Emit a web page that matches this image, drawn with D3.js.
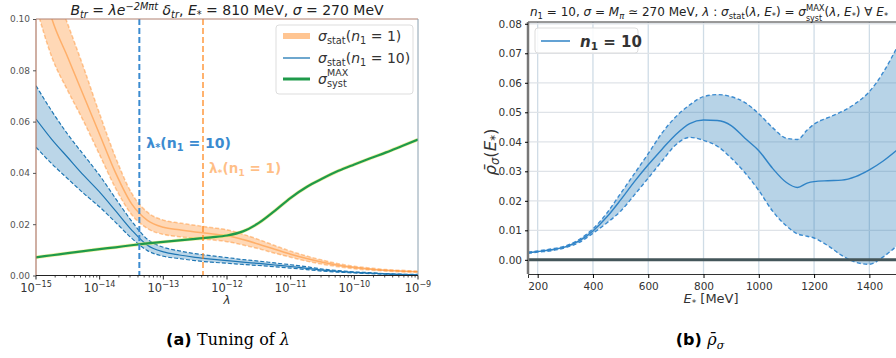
<!DOCTYPE html>
<html>
<head>
<meta charset="utf-8">
<script src="https://cdn.jsdelivr.net/npm/d3@7"></script>
<style>
  body { margin: 0; background: #fff; }
  svg { display: block; font-family: "DejaVu Sans", sans-serif; }
</style>
</head>
<body>
<svg id="fig" width="896" height="358"></svg>
<script>
// ---- panel (a): tuning of lambda ----
const lambdas = [1e-15, 1.78e-15, 3.16e-15, 5.62e-15, 1e-14, 1.78e-14, 3.16e-14, 5.62e-14, 1e-13, 1.78e-13, 3.16e-13, 5.62e-13,
  1e-12, 1.78e-12, 3.16e-12, 5.62e-12, 1e-11, 1.78e-11, 3.16e-11, 5.62e-11, 1e-10, 1.78e-10, 3.16e-10, 5.62e-10, 1e-9];
const statN1Mid = [0.124, 0.100, 0.085, 0.070, 0.055, 0.040, 0.028, 0.0215, 0.0188, 0.0178, 0.0170, 0.0163, 0.0155,
  0.0140, 0.0122, 0.0102, 0.0083, 0.0066, 0.0052, 0.0040, 0.0031, 0.0025, 0.0020, 0.0017, 0.0015];
const statN1Hi = [0.143, 0.115, 0.098, 0.081, 0.063, 0.046, 0.0322, 0.0247, 0.0216, 0.0205, 0.0196, 0.0187, 0.0178,
  0.0161, 0.0140, 0.0117, 0.0095, 0.0076, 0.0060, 0.0046, 0.0036, 0.0029, 0.0023, 0.0020, 0.0017];
const statN1Lo = [0.105, 0.085, 0.072, 0.060, 0.047, 0.034, 0.0238, 0.0183, 0.0160, 0.0151, 0.0145, 0.0139, 0.0132,
  0.0119, 0.0104, 0.0087, 0.0071, 0.0056, 0.0044, 0.0034, 0.0026, 0.0021, 0.0017, 0.0014, 0.0013];
const statN10Mid = [0.061, 0.053, 0.046, 0.039, 0.0325, 0.0252, 0.0178, 0.0118, 0.0092, 0.0080, 0.0071, 0.0064, 0.0058,
  0.0052, 0.0047, 0.0041, 0.0035, 0.0028, 0.0021, 0.0016, 0.0012, 0.0009, 0.0006, 0.0004, 0.0003];
const statN10Hi = [0.074, 0.064, 0.055, 0.047, 0.039, 0.030, 0.0213, 0.0141, 0.0110, 0.0096, 0.0085, 0.0077, 0.0070,
  0.0062, 0.0056, 0.0049, 0.0042, 0.0034, 0.0025, 0.0019, 0.0014, 0.0011, 0.0007, 0.0005, 0.0004];
const statN10Lo = [0.050, 0.0435, 0.0377, 0.032, 0.0267, 0.0207, 0.0146, 0.0097, 0.0075, 0.0066, 0.0058, 0.0052, 0.0048,
  0.0043, 0.0039, 0.0034, 0.0029, 0.0023, 0.0017, 0.0013, 0.0010, 0.0007, 0.0005, 0.0003, 0.0002];
const systMax = [0.0071, 0.0079, 0.0087, 0.0095, 0.0103, 0.0110, 0.0118, 0.0125, 0.0131, 0.0137, 0.0143, 0.0149, 0.0156,
  0.0172, 0.0205, 0.0252, 0.0303, 0.0345, 0.0378, 0.0408, 0.0433, 0.0457, 0.0480, 0.0505, 0.0530];
const lambdaStarN10 = 4.2e-14;
const lambdaStarN1 = 4.2e-13;
const yTicksA = [0, 0.02, 0.04, 0.06, 0.08, 0.10];
const xTicksA = [1e-15, 1e-14, 1e-13, 1e-12, 1e-11, 1e-10, 1e-9];

// ---- panel (b): rho bar ----
const energies = [165, 200, 250, 300, 350, 400, 450, 500, 550, 600, 650, 700, 750, 800, 850, 900, 950, 1000,
  1050, 1100, 1140, 1175, 1200, 1250, 1300, 1350, 1400, 1450, 1500];
const rhoMid = [0.0024, 0.0028, 0.0034, 0.0044, 0.0064, 0.0098, 0.0145, 0.0203, 0.0265, 0.0322, 0.0375, 0.0425, 0.0462, 0.0474, 0.0472, 0.0455,
  0.0412, 0.0370, 0.0310, 0.0262, 0.0245, 0.0260, 0.0265, 0.0268, 0.0270, 0.0282, 0.0305, 0.0335, 0.0372];
const rhoHi = [0.0026, 0.0030, 0.0037, 0.0047, 0.0069, 0.0105, 0.0158, 0.0225, 0.0292, 0.0360, 0.0430, 0.0485, 0.0525, 0.0553, 0.0560, 0.0553,
  0.0533, 0.0495, 0.0448, 0.0412, 0.0408, 0.0440, 0.0460, 0.0482, 0.0502, 0.0530, 0.0570, 0.0635, 0.0720];
const rhoLo = [0.0022, 0.0026, 0.0031, 0.0041, 0.0059, 0.0090, 0.0125, 0.0165, 0.0220, 0.0277, 0.0335, 0.0390, 0.0415, 0.0405, 0.0385, 0.0345,
  0.0295, 0.0235, 0.0165, 0.0115, 0.0088, 0.0080, 0.0074, 0.0048, 0.0015, -0.0008, -0.0015, 0.0010, 0.0048];
const xTicksB = [200, 400, 600, 800, 1000, 1200, 1400];
const yTicksB = [0, 0.01, 0.02, 0.03, 0.04, 0.05, 0.06, 0.07, 0.08];

const blue = "#1f77b4", orange = "#ff7f0e";
const svg = d3.select("#fig");
svg.append("rect").attr("width", 896).attr("height", 358).attr("fill", "#fff");

// text with sub/superscripts, parts = [[text, "n"|"sub"|"sup", italic]]
function richText(sel, parts, size) {
  let shift = 0;
  parts.forEach(([t, kind, it]) => {
    const target = kind === "sub" ? 3 : kind === "sup" ? -5 : 0;
    sel.append("tspan")
      .attr("dy", target - shift)
      .attr("font-size", kind === "n" ? size : size * 0.7)
      .attr("font-style", it ? "italic" : "normal")
      .text(t);
    shift = target;
  });
}

// ================= panel (a) =================
const A = { left: 36, right: 418, top: 19, bottom: 275.5 };
const xA = d3.scaleLog().domain([1e-15, 1e-9]).range([A.left, A.right]);
const yA = d3.scaleLinear().domain([0, 0.10]).range([A.bottom, A.top]);

svg.append("clipPath").attr("id", "clipA").append("rect")
  .attr("x", A.left).attr("y", A.top).attr("width", A.right - A.left).attr("height", A.bottom - A.top);
const gA = svg.append("g").attr("clip-path", "url(#clipA)");

const lineA = arr => d3.line().x((d, i) => xA(lambdas[i])).y(d => yA(d)).curve(d3.curveMonotoneX)(arr);
const areaA = (lo, hi) => d3.area().x((d, i) => xA(lambdas[i])).y0((d, i) => yA(lo[i])).y1((d, i) => yA(hi[i]))
  .curve(d3.curveMonotoneX)(lambdas);

// orange band (n1 = 1)
gA.append("path").attr("d", areaA(statN1Lo, statN1Hi)).attr("fill", orange).attr("opacity", 0.3);
[statN1Lo, statN1Hi].forEach(a => gA.append("path").attr("d", lineA(a)).attr("fill", "none")
  .attr("stroke", orange).attr("stroke-opacity", 0.4).attr("stroke-width", 1.5).attr("stroke-dasharray", "4,2"));
gA.append("path").attr("d", lineA(statN1Mid)).attr("fill", "none")
  .attr("stroke", orange).attr("stroke-opacity", 0.45).attr("stroke-width", 1.5);

// blue band (n1 = 10)
gA.append("path").attr("d", areaA(statN10Lo, statN10Hi)).attr("fill", blue).attr("opacity", 0.3);
[statN10Lo, statN10Hi].forEach(a => gA.append("path").attr("d", lineA(a)).attr("fill", "none")
  .attr("stroke", blue).attr("stroke-width", 1.2).attr("stroke-dasharray", "4,2"));
gA.append("path").attr("d", lineA(statN10Mid)).attr("fill", "none").attr("stroke", blue).attr("stroke-width", 1.2);

// syst
gA.append("path").attr("d", lineA(systMax)).attr("fill", "none").attr("stroke", "#e8e860").attr("stroke-width", 3.5).attr("opacity", 0.6);
gA.append("path").attr("d", lineA(systMax)).attr("fill", "none").attr("stroke", "#1f9a4a").attr("stroke-width", 2.2);

// lambda* vertical lines
gA.append("line").attr("x1", xA(lambdaStarN10)).attr("x2", xA(lambdaStarN10)).attr("y1", A.top).attr("y2", A.bottom)
  .attr("stroke", "#3b8bd0").attr("stroke-width", 2).attr("stroke-dasharray", "6,3");
gA.append("line").attr("x1", xA(lambdaStarN1)).attr("x2", xA(lambdaStarN1)).attr("y1", A.top).attr("y2", A.bottom)
  .attr("stroke", orange).attr("stroke-opacity", 0.6).attr("stroke-width", 2).attr("stroke-dasharray", "6,3");

const lab10 = svg.append("text").attr("x", xA(lambdaStarN10) + 7).attr("y", 148)
  .attr("fill", "#3b8bd0").attr("font-weight", "bold");
richText(lab10, [["λ", "n"], ["*", "sub"], ["(n", "n"], ["1", "sub"], [" = 10)", "n"]], 14);
const lab1 = svg.append("text").attr("x", xA(lambdaStarN1) + 6).attr("y", 173)
  .attr("fill", orange).attr("fill-opacity", 0.5).attr("font-weight", "bold");
richText(lab1, [["λ", "n"], ["*", "sub"], ["(n", "n"], ["1", "sub"], [" = 1)", "n"]], 13.5);

// frame
svg.append("line").attr("x1", A.left).attr("x2", A.right).attr("y1", A.top).attr("y2", A.top).attr("stroke", "#b08070");
svg.append("line").attr("x1", A.left).attr("x2", A.left).attr("y1", A.top).attr("y2", A.bottom).attr("stroke", "#b07a66").attr("stroke-width", 1.2);
svg.append("line").attr("x1", A.right).attr("x2", A.right).attr("y1", A.top).attr("y2", A.bottom).attr("stroke", "#8aa0b0");
svg.append("line").attr("x1", A.left).attr("x2", A.right).attr("y1", A.bottom).attr("y2", A.bottom).attr("stroke", "#222").attr("stroke-width", 1.2);

// y axis (a)
const yAxisA = svg.append("g").attr("transform", `translate(${A.left},0)`)
  .call(d3.axisLeft(yA).tickValues(yTicksA).tickFormat(d3.format(".2f")).tickSize(3));
yAxisA.select(".domain").remove();
yAxisA.selectAll("text").attr("font-size", 9).attr("fill", "#555").attr("font-family", "DejaVu Sans");
yAxisA.selectAll("line").attr("stroke", "#555");

// x axis (a): majors with 10^k labels plus minor ticks
const minorA = [];
for (let e = -15; e < -9; e++) for (let m = 2; m <= 9; m++) minorA.push(m * Math.pow(10, e));
const xAxisA = svg.append("g").attr("transform", `translate(0,${A.bottom})`);
xAxisA.selectAll("line.minor").data(minorA).join("line").attr("class", "minor")
  .attr("x1", d => xA(d)).attr("x2", d => xA(d)).attr("y1", 0).attr("y2", 2).attr("stroke", "#222").attr("stroke-width", 0.8);
xAxisA.selectAll("line.major").data(xTicksA).join("line").attr("class", "major")
  .attr("x1", d => xA(d)).attr("x2", d => xA(d)).attr("y1", 0).attr("y2", 4).attr("stroke", "#222");
xAxisA.selectAll("text").data(xTicksA).join("text")
  .attr("x", d => xA(d)).attr("y", 16).attr("text-anchor", "middle").attr("fill", "#333")
  .each(function (d) {
    richText(d3.select(this), [["10", "n"], ["−" + Math.round(-Math.log10(d)), "sup"]], 11.5);
  });
svg.append("text").attr("x", (A.left + A.right) / 2).attr("y", 304).attr("text-anchor", "middle")
  .attr("font-size", 12).attr("font-style", "italic").attr("fill", "#333").text("λ");

// title (a)
const tA = svg.append("text").attr("x", (A.left + A.right) / 2).attr("y", 15).attr("text-anchor", "middle").attr("fill", "#222");
richText(tA, [["B", "n", 1], ["tr", "sub", 1], [" = ", "n"], ["λe", "n", 1], ["−2M", "sup", 1], ["π", "sup", 1], ["t", "sup", 1],
  [" δ", "n", 1], ["tr", "sub", 1], [", ", "n"], ["E", "n", 1], ["*", "sub"], [" = 810 MeV, ", "n"], ["σ", "n", 1], [" = 270 MeV", "n"]], 14);

// legend (a)
const legA = svg.append("g").attr("transform", "translate(276,25)");
legA.append("rect").attr("width", 137).attr("height", 69).attr("rx", 3).attr("fill", "#fff").attr("fill-opacity", 0.85)
  .attr("stroke", "#ddd");
const legItems = [
  { color: orange, w: 6, op: 0.45, y: 11, parts: [["σ", "n", 1], ["stat", "sub"], ["(", "n"], ["n", "n", 1], ["1", "sub"], [" = 1)", "n"]] },
  { color: blue, w: 1.3, op: 1, y: 33, parts: [["σ", "n", 1], ["stat", "sub"], ["(", "n"], ["n", "n", 1], ["1", "sub"], [" = 10)", "n"]] },
  { color: "#1f9a4a", w: 3, op: 1, y: 54, parts: [["σ", "n", 1], ["syst", "sub"]], sup: "MAX" }
];
legItems.forEach(it => {
  legA.append("line").attr("x1", 7).attr("x2", 34).attr("y1", it.y).attr("y2", it.y)
    .attr("stroke", it.color).attr("stroke-width", it.w).attr("stroke-opacity", it.op);
  const t = legA.append("text").attr("x", 42).attr("y", it.y + 5).attr("fill", "#333");
  richText(t, it.parts, 14);
  if (it.sup) legA.append("text").attr("x", 51).attr("y", it.y - 3).attr("font-size", 9.5).attr("fill", "#333").text(it.sup);
});

// ================= panel (b) =================
const B = { left: 528, right: 897, top: 22, bottom: 274 };
const xB = d3.scaleLinear().domain([165, 1500]).range([B.left, B.right]);
const yB = d3.scaleLinear().domain([-0.0048, 0.0806]).range([B.bottom, B.top]);

svg.append("clipPath").attr("id", "clipB").append("rect")
  .attr("x", B.left).attr("y", B.top).attr("width", B.right - B.left).attr("height", B.bottom - B.top);
const gB = svg.append("g").attr("clip-path", "url(#clipB)");

// grid
gB.selectAll("line.gx").data(xTicksB).join("line").attr("class", "gx")
  .attr("x1", d => xB(d)).attr("x2", d => xB(d)).attr("y1", B.top).attr("y2", B.bottom)
  .attr("stroke", "#cfdce6").attr("stroke-width", 1.3);
gB.selectAll("line.gy").data(yTicksB).join("line").attr("class", "gy")
  .attr("x1", B.left).attr("x2", B.right).attr("y1", d => yB(d)).attr("y2", d => yB(d))
  .attr("stroke", "#dfe3e8").attr("stroke-width", 1.3);

const lineB = arr => d3.line().x((d, i) => xB(energies[i])).y(d => yB(d)).curve(d3.curveMonotoneX)(arr);
gB.append("path").attr("d", d3.area().x((d, i) => xB(energies[i])).y0((d, i) => yB(rhoLo[i])).y1((d, i) => yB(rhoHi[i]))
  .curve(d3.curveMonotoneX)(energies)).attr("fill", blue).attr("opacity", 0.32);
[rhoLo, rhoHi].forEach(a => gB.append("path").attr("d", lineB(a)).attr("fill", "none")
  .attr("stroke", "#3b8bd0").attr("stroke-width", 1.4).attr("stroke-dasharray", "4,2.5"));
gB.append("path").attr("d", lineB(rhoMid)).attr("fill", "none").attr("stroke", "#2f83c6").attr("stroke-width", 1.4);

// zero line, frame
svg.append("line").attr("x1", B.left).attr("x2", B.right).attr("y1", yB(0)).attr("y2", yB(0))
  .attr("stroke", "#44565a").attr("stroke-width", 3);
svg.append("line").attr("x1", B.left).attr("x2", B.right).attr("y1", B.top).attr("y2", B.top).attr("stroke", "#333");
svg.append("line").attr("x1", B.left).attr("x2", B.left).attr("y1", B.top).attr("y2", B.bottom).attr("stroke", "#777").attr("stroke-width", 2.5);

const xAxisB = svg.append("g").attr("transform", `translate(0,${B.bottom})`)
  .call(d3.axisBottom(xB).tickValues(xTicksB).tickFormat(d3.format("d")).tickSize(4));
xAxisB.select(".domain").attr("stroke", "#333");
xAxisB.selectAll("text").attr("font-size", 10.5).attr("fill", "#333").attr("font-family", "DejaVu Sans").attr("dy", "0.9em");
const yAxisB = svg.append("g").attr("transform", `translate(${B.left},0)`)
  .call(d3.axisLeft(yB).tickValues(yTicksB).tickFormat(d3.format(".2f")).tickSize(3));
yAxisB.select(".domain").remove();
yAxisB.selectAll("text").attr("font-size", 10.5).attr("fill", "#333").attr("font-family", "DejaVu Sans");

const xlB = svg.append("text").attr("x", 711).attr("y", 303).attr("text-anchor", "middle").attr("fill", "#333");
richText(xlB, [["E", "n", 1], ["*", "sub"], [" [MeV]", "n"]], 13);
const ylB = svg.append("text").attr("transform", "translate(496,152) rotate(-90)").attr("text-anchor", "middle").attr("fill", "#333");
richText(ylB, [["ρ̄", "n", 1], ["σ", "sub", 1], ["(", "n"], ["E", "n", 1], ["*", "sub"], [")", "n"]], 16.5);

// title (b) runs up to the right edge, as in the original figure
const tB = svg.append("text").attr("x", 530).attr("y", 16).attr("fill", "#222");
richText(tB, [["n", "n", 1], ["1", "sub"], [" = 10, ", "n"], ["σ", "n", 1], [" = ", "n"], ["M", "n", 1], ["π", "sub", 1],
  [" ≃ 270 MeV, ", "n"], ["λ", "n", 1], [" : ", "n"], ["σ", "n", 1], ["stat", "sub"], ["(", "n"], ["λ", "n", 1], [", ", "n"],
  ["E", "n", 1], ["*", "sub"], [") = ", "n"], ["σ", "n", 1], ["MAX", "sup"], ["(", "n"], ["λ", "n", 1], [", ", "n"],
  ["E", "n", 1], ["*", "sub"], [") ∀ ", "n"], ["E", "n", 1], ["*", "sub"]], 12);
// "syst" subscript placed under MAX
const maxNode = tB.selectAll("tspan").filter(function () { return this.textContent === "MAX"; }).node();
const mb = maxNode.getBBox();
svg.append("text").attr("x", mb.x).attr("y", 20.5).attr("font-size", 8).attr("fill", "#222").text("syst");

// legend (b)
const legB = svg.append("g").attr("transform", "translate(535,28)");
legB.append("rect").attr("width", 103).attr("height", 25).attr("rx", 3).attr("fill", "#fff").attr("fill-opacity", 0.85).attr("stroke", "#ddd");
legB.append("line").attr("x1", 6).attr("x2", 35).attr("y1", 13).attr("y2", 13).attr("stroke", "#2f83c6").attr("stroke-width", 1.5);
const lt = legB.append("text").attr("x", 45).attr("y", 19).attr("fill", "#333").attr("font-weight", "bold");
richText(lt, [["n", "n", 1], ["1", "sub"], [" = 10", "n"]], 15);

// captions
const capA = svg.append("text").attr("x", 228).attr("y", 345).attr("text-anchor", "middle").attr("font-size", 16);
capA.append("tspan").attr("font-weight", "bold").attr("font-family", "DejaVu Sans").text("(a) ");
capA.append("tspan").attr("font-family", "DejaVu Serif").text("Tuning of ");
capA.append("tspan").attr("font-family", "DejaVu Serif").attr("font-style", "italic").text("λ");
const capB = svg.append("text").attr("x", 700).attr("y", 345).attr("text-anchor", "middle").attr("font-size", 16);
capB.append("tspan").attr("font-weight", "bold").attr("font-family", "DejaVu Sans").text("(b) ");
capB.append("tspan").attr("font-family", "DejaVu Serif").attr("font-style", "italic").text("ρ̄");
capB.append("tspan").attr("font-family", "DejaVu Serif").attr("font-style", "italic").attr("font-size", 11).attr("dy", 4).text("σ");
</script>
</body>
</html>
